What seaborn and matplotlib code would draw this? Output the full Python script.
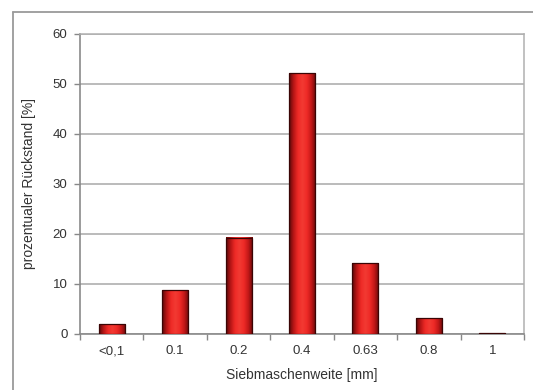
import numpy as np
import pandas as pd
import matplotlib
matplotlib.use("Agg")
import matplotlib.pyplot as plt
import seaborn as sns
from matplotlib.colors import LinearSegmentedColormap
from matplotlib.lines import Line2D

categories = ["<0,1", "0.1", "0.2", "0.4", "0.63", "0.8", "1"]
values = [2.0, 8.8, 19.3, 52.1, 14.3, 3.2, 0.2]
yticks = [0, 10, 20, 30, 40, 50, 60]

sns.set_theme(style="white")
plt.rcParams['font.family'] = ['Liberation Sans', 'DejaVu Sans']

df = pd.DataFrame({"cat": categories, "val": values})

fig = plt.figure(figsize=(5.33, 3.90), dpi=100)
ax = fig.add_axes([80/533, 1 - 334/390, (524-80)/533, (334-34)/390])

sns.barplot(data=df, x="cat", y="val", color="#e8221f", width=0.41,
            edgecolor="#3a0505", linewidth=0.9, saturation=1, ax=ax, zorder=3)

# gradient shading on bars
cmap = LinearSegmentedColormap.from_list(
    "bar", ["#5a0808", "#b81616", "#ee2a26", "#f23a33", "#ee2a26", "#c41818", "#6a0a0a"])
grad = np.linspace(0, 1, 64).reshape(1, -1)
for p in list(ax.patches):
    x0, y0 = p.get_x(), p.get_y()
    w, h = p.get_width(), p.get_height()
    im = ax.imshow(grad, cmap=cmap, aspect="auto", extent=[x0, x0 + w, y0, y0 + h],
                   zorder=3.5, interpolation="bilinear")
    im.set_clip_path(p)
    p.set_facecolor("none")
    p.set_zorder(4)

ax.set_xlim(-0.5, len(categories) - 0.5)
ax.set_ylim(0, 60)
ax.set_yticks(yticks)
ax.yaxis.grid(True, color="#a8a8a8", linewidth=1.1, zorder=0)
ax.set_axisbelow(True)

ax.set_xticks(np.arange(len(categories)))
ax.set_xticklabels(categories)
ax.set_xticks(np.arange(-0.5, len(categories)), minor=True)
ax.tick_params(axis="x", which="major", length=0, pad=8, labelsize=9.5, labelcolor="#333333")
ax.tick_params(axis="x", which="minor", length=4, width=1, color="#888888", direction="out", bottom=True)
ax.tick_params(axis="y", length=4, width=1, color="#888888", direction="out", left=True,
               labelsize=9.5, labelcolor="#333333", pad=5)

for s in ["left", "bottom"]:
    ax.spines[s].set_color("#8a8a8a")
    ax.spines[s].set_linewidth(1.2)
for s in ["right", "top"]:
    ax.spines[s].set_color("#b0b0b0")
    ax.spines[s].set_linewidth(1.1)

ax.set_xlabel("Siebmaschenweite [mm]", fontsize=10, color="#333333", labelpad=8)
ax.set_ylabel("prozentualer Rückstand [%]", fontsize=10, color="#333333", labelpad=12)

# outer chart frame (left and top edges visible)
fig.add_artist(Line2D([13/533, 13/533], [0, 1 - 12/390], transform=fig.transFigure,
                      color="#9a9a9a", linewidth=1.3))
fig.add_artist(Line2D([13/533, 1], [1 - 12/390, 1 - 12/390], transform=fig.transFigure,
                      color="#9a9a9a", linewidth=1.3))

fig.savefig("out.png", dpi=100)
